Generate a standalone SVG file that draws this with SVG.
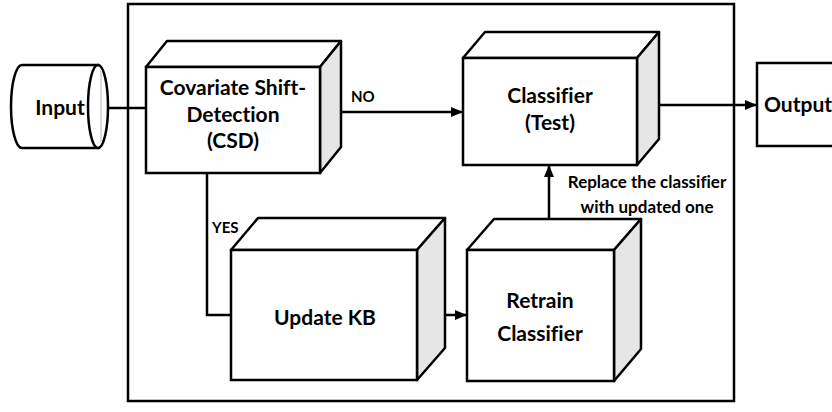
<svg xmlns="http://www.w3.org/2000/svg" width="832" height="412" viewBox="0 0 832 412">
<defs>
<style>
.ln{fill:none;stroke:#000;stroke-width:2.5;stroke-linejoin:miter}
.front{fill:#fff;stroke:#000;stroke-width:2.5}
.top{fill:#fff;stroke:#000;stroke-width:2.5;stroke-linejoin:round}
.side{fill:#e6e6e6;stroke:#000;stroke-width:2.5;stroke-linejoin:round}
text{font-family:Lato,"Liberation Sans",sans-serif;font-weight:bold;fill:#000;font-variant-ligatures:none;font-feature-settings:"liga" 0}
.t{font-size:21px;text-anchor:middle}
.s{font-size:15px}
.l{font-size:17px;text-anchor:middle}
</style>
<marker id="ah" markerUnits="userSpaceOnUse" markerWidth="12" markerHeight="12" viewBox="0 0 12 12" refX="12" refY="6" orient="auto">
<path d="M0,1 L12,6 L0,11 Z" fill="#000"/>
</marker>
</defs>
<rect id="frame" x="128" y="4" width="606" height="397" fill="none" stroke="#000" stroke-width="2.5"/>
<g id="connectors">
<line class="ln" x1="109" y1="108" x2="146" y2="108"/>
<line class="ln" x1="342" y1="112" x2="463" y2="112" marker-end="url(#ah)"/>
<line class="ln" x1="649" y1="105" x2="757" y2="105" marker-end="url(#ah)"/>
<polyline class="ln" points="207,173 207,315 231,315"/>
<line class="ln" x1="431" y1="315" x2="467" y2="315" marker-end="url(#ah)"/>
<line class="ln" x1="549" y1="237" x2="549" y2="165" marker-end="url(#ah)"/>
<text class="s" x="351" y="102">NO</text>
<text class="s" x="212" y="233">YES</text>
<text class="l" x="647" y="188">Replace the classifier</text>
<text class="l" x="647" y="213">with updated one</text>
</g>
<g id="input">
<path d="M22,65 L98,65 L98,148 L22,148 A11,41.5 0 0 1 22,65 Z" fill="#fff" stroke="#000" stroke-width="2.5"/>
<ellipse cx="98" cy="106.5" rx="10" ry="41.5" fill="#fff" stroke="#000" stroke-width="2.5"/>
<line x1="101" y1="70" x2="101" y2="143" stroke="#dcdcdc" stroke-width="2"/>
<text class="t" x="60" y="115">Input</text>
</g>
<g id="csd">
<polygon class="top" points="146,67 167,41 341,41 320,67"/>
<polygon class="side" points="320,67 341,41 341,147 320,173"/>
<rect class="front" x="146" y="67" width="174" height="106"/>
<text class="t" x="233" y="95">Covariate Shift-</text>
<text class="t" x="233" y="122">Detection</text>
<text class="t" x="233" y="148">(CSD)</text>
</g>
<g id="classifier">
<polygon class="top" points="463,58 485,32 659,32 637,58"/>
<polygon class="side" points="637,58 659,32 659,139 637,165"/>
<rect class="front" x="463" y="58" width="174" height="107"/>
<text class="t" x="550" y="103">Classifier</text>
<text class="t" x="550" y="130">(Test)</text>
</g>
<g id="updatekb">
<polygon class="top" points="231,250 258,218 445,218 417,250"/>
<polygon class="side" points="417,250 445,218 445,348 417,380"/>
<rect class="front" x="231" y="250" width="186" height="130"/>
<text class="t" x="325" y="325">Update KB</text>
</g>
<g id="retrain">
<polygon class="top" points="467,250 494,219 641,219 614,250"/>
<polygon class="side" points="614,250 641,219 641,349 614,381"/>
<rect class="front" x="467" y="250" width="147" height="131"/>
<text class="t" x="540" y="308">Retrain</text>
<text class="t" x="540" y="341">Classifier</text>
</g>
<g id="output">
<rect x="757" y="63" width="90" height="83" fill="#fff" stroke="#000" stroke-width="2.5"/>
<text class="t" x="764" y="112" style="text-anchor:start">Output</text>
</g>
</svg>
